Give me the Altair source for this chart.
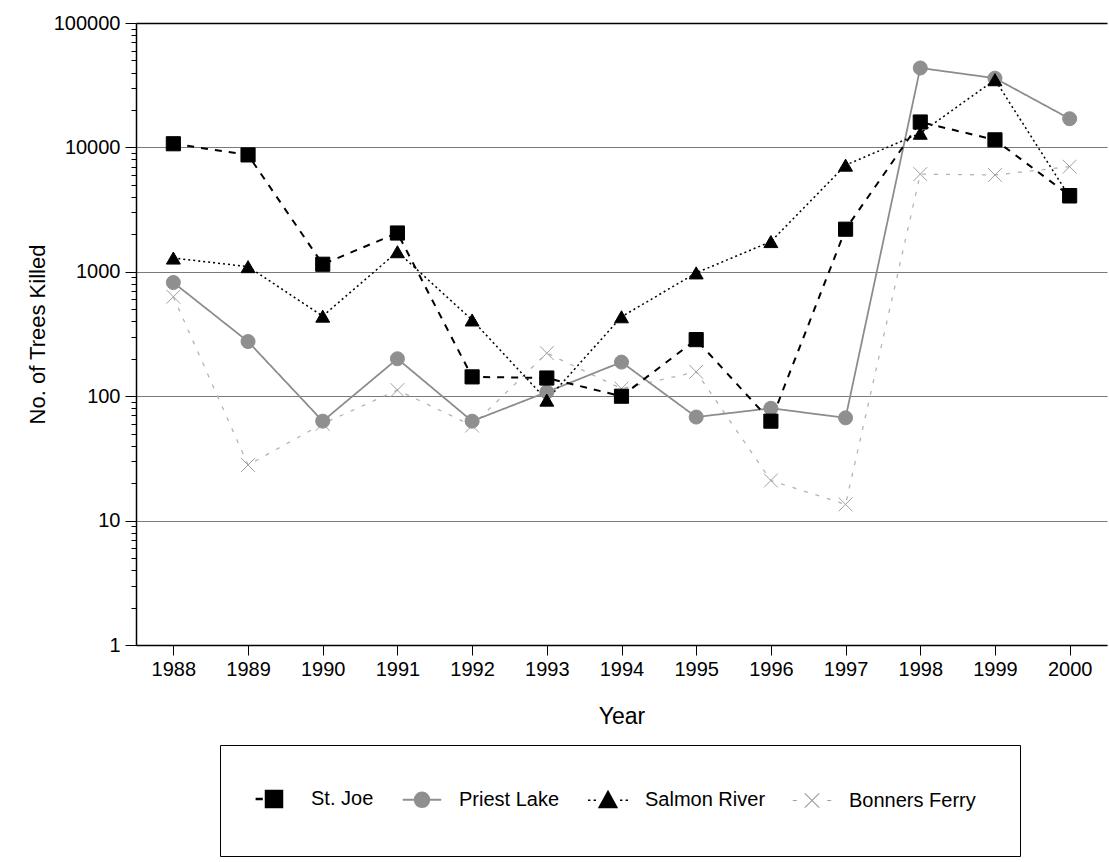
import altair as alt
import pandas as pd

# Annual counts of trees killed per site, 1988-2000
years = list(range(1988, 2001))
series = ["St. Joe", "Priest Lake", "Salmon River", "Bonners Ferry"]
st_joe = [10700, 8700, 1150, 2050, 143, 140, 100, 285, 63, 2200, 16000, 11500, 4100]
priest_lake = [820, 275, 63, 200, 63, 108, 188, 68, 80, 67, 43500, 36000, 17000]
salmon_river = [1290, 1100, 440, 1450, 410, 93, 435, 980, 1750, 7200, 13000, 35000, 4000]
bonners_ferry = [630, 28, 60, 112, 58, 222, 115, 157, 21, 13.5, 6100, 6000, 7000]

values_by_series = {
    "St. Joe": st_joe,
    "Priest Lake": priest_lake,
    "Salmon River": salmon_river,
    "Bonners Ferry": bonners_ferry,
}

# long table; later rows are drawn on top
draw_order = ["Bonners Ferry", "Priest Lake", "Salmon River", "St. Joe"]
rows = []
for name in draw_order:
    for yr, v in zip(years, values_by_series[name]):
        rows.append({"year": yr, "trees": v, "site": name})
df = pd.DataFrame(rows)

FONT = "Liberation Sans"
decades = [1, 10, 100, 1000, 10000, 100000]
y_ticks = [m * d for d in decades[:-1] for m in range(1, 10)] + [100000]
is_decade = "indexof([1,10,100,1000,10000,100000], datum.value) >= 0"

x_enc = alt.X(
    "year:O",
    scale=alt.Scale(type="point", padding=0.5),
    axis=alt.Axis(
        title="Year",
        labelAngle=0,
        labelFontSize=20,
        labelFont=FONT,
        labelColor="black",
        labelPadding=4,
        tickSize=10,
        tickColor="black",
        domainColor="black",
        domainWidth=1.5,
        titleFontSize=23,
        titleFont=FONT,
        titleFontWeight="normal",
        titleColor="black",
        titlePadding=26,
        grid=False,
    ),
)

y_enc = alt.Y(
    "trees:Q",
    scale=alt.Scale(type="log", domain=[1, 100000], nice=False),
    axis=alt.Axis(
        title="No. of Trees Killed",
        values=y_ticks,
        format="d",
        labelExpr=is_decade + " ? datum.label : ''",
        labelFontSize=20,
        labelFont=FONT,
        labelColor="black",
        labelPadding=5,
        tickColor="black",
        tickSize={"condition": {"test": is_decade, "value": 11}, "value": 5},
        domainColor="black",
        domainWidth=1.5,
        grid=True,
        gridColor={"condition": {"test": "datum.value == 100000", "value": "black"}, "value": "#7a7a7a"},
        gridWidth={"condition": {"test": "datum.value == 100000", "value": 1.5}, "value": 1},
        gridOpacity={"condition": {"test": is_decade, "value": 1}, "value": 0},
        titleFontSize=22,
        titleFont=FONT,
        titleFontWeight="normal",
        titleColor="black",
        titlePadding=4,
    ),
)

line_colors = ["black", "#8c8c8c", "black", "#b4b4b4"]
lines = alt.Chart(df).mark_line().encode(
    x=x_enc,
    y=y_enc,
    detail="site:N",
    stroke=alt.Stroke("site:N", scale=alt.Scale(domain=series, range=line_colors), legend=None),
    strokeDash=alt.StrokeDash(
        "site:N",
        scale=alt.Scale(domain=series, range=[[7, 7], [1, 0], [2, 3], [4, 8]]),
        legend=None,
    ),
    strokeWidth=alt.StrokeWidth(
        "site:N", scale=alt.Scale(domain=series, range=[2, 1.3, 2.2, 1]), legend=None
    ),
)

x_path = "M-1,-1L1,1M-1,1L1,-1"
points = alt.Chart(df).mark_point(opacity=1, strokeWidth=1).encode(
    x="year:O",
    y="trees:Q",
    shape=alt.Shape(
        "site:N",
        scale=alt.Scale(domain=series, range=["square", "circle", "triangle-up", x_path]),
        legend=None,
    ),
    fill=alt.Fill(
        "site:N",
        scale=alt.Scale(domain=series, range=["black", "#8f8f8f", "black", "transparent"]),
        legend=None,
    ),
    stroke=alt.Stroke(
        "site:N",
        scale=alt.Scale(domain=series, range=["black", "#8f8f8f", "black", "#a0a0a0"]),
        legend=None,
    ),
    size=alt.Size("site:N", scale=alt.Scale(domain=series, range=[200, 190, 190, 160]), legend=None),
)

# key symbols: marker plus short line stubs in each site's line style
key_paths = [
    "M-2.3,0H-1.4M-1,-1H1V1H-1Z",
    "M-2.4,0H-0.9M0.9,0H2.4M-0.9,0A0.9,0.9,0,1,0,0.9,0A0.9,0.9,0,1,0,-0.9,0Z",
    "M-2.5,0H-2.2M-1.8,0H-1.5M1.5,0H1.8M2.2,0H2.5M0,-1.1L1.1,0.9H-1.1Z",
    "M-2.4,0H-1.9M1.9,0H2.4M-0.9,-0.9L0.9,0.9M-0.9,0.9L0.9,-0.9",
]
key_legend = alt.Legend(
    title=None,
    orient="none",
    legendX=84,
    legendY=722,
    direction="horizontal",
    columns=4,
    columnPadding=24,
    padding=44,
    strokeColor="black",
    fillColor="white",
    symbolSize=256,
    symbolOpacity=1,
    labelFont=FONT,
    labelFontSize=20,
    labelColor="black",
    labelOffset=27,
    labelLimit=300,
)
key_layer = alt.Chart(df).mark_point(opacity=0).encode(
    x="year:O",
    y="trees:Q",
    shape=alt.Shape("site:N", scale=alt.Scale(domain=series, range=key_paths), legend=key_legend),
    fill=alt.Fill(
        "site:N",
        scale=alt.Scale(domain=series, range=["black", "#8f8f8f", "black", "transparent"]),
        legend=key_legend,
    ),
    stroke=alt.Stroke(
        "site:N",
        scale=alt.Scale(domain=series, range=["black", "#8f8f8f", "black", "#a0a0a0"]),
        legend=key_legend,
    ),
    strokeWidth=alt.StrokeWidth(
        "site:N", scale=alt.Scale(domain=series, range=[2.5, 1.2, 2.5, 1.2]), legend=key_legend
    ),
)

chart = (
    alt.layer(lines, points, key_layer)
    .resolve_scale(
        shape="independent",
        fill="independent",
        stroke="independent",
        strokeWidth="independent",
        strokeDash="independent",
        size="independent",
    )
    .properties(
        width=971,
        height=622,
        autosize=alt.AutoSizeParams(type="none"),
        padding={"left": 136, "top": 23, "right": 2, "bottom": 217},
        background="white",
    )
    .configure_view(stroke=None)
)

chart.save("out.html", embed_options={"renderer": "svg", "actions": False})
